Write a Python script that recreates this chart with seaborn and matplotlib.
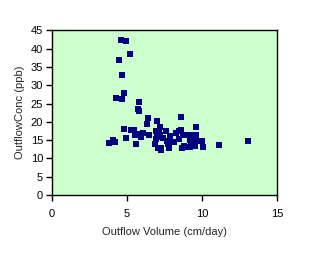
import matplotlib
matplotlib.use("Agg")
import matplotlib.pyplot as plt
import seaborn as sns
import pandas as pd

outflow_volume = [4.60, 4.96, 5.22, 4.49, 4.69, 4.82, 4.29, 4.69,
                  5.80, 5.73, 5.82, 6.40, 6.33, 7.00, 4.82, 5.29, 5.49, 6.93,
                  5.55, 5.88, 6.07, 6.47, 4.96, 5.93, 4.07, 3.83, 4.22, 5.62,
                  8.60, 9.59, 7.20, 7.15, 7.22, 7.60, 7.86, 8.28, 8.46, 8.60, 8.73,
                  9.17, 9.37, 9.59, 7.04, 7.40, 6.95, 8.48, 9.21, 9.37, 9.66, 9.99,
                  7.66, 7.84, 8.13, 6.87, 7.75, 9.26, 9.43, 11.14, 13.05,
                  7.09, 7.30, 7.27, 7.82, 8.66, 8.80, 9.00, 9.21, 9.53, 10.06]
outflow_conc = [42.4, 42.1, 38.6, 36.9, 32.8, 28.0, 26.5, 26.3,
                25.5, 23.5, 23.0, 21.1, 19.4, 20.3, 18.0, 17.8, 17.8, 17.5,
                16.5, 16.7, 17.0, 16.5, 15.7, 15.9, 15.0, 14.3, 14.5, 14.0,
                21.4, 18.7, 18.7, 17.0, 16.5, 17.6, 16.2, 17.0, 17.6, 17.8, 16.5,
                16.5, 16.5, 16.5, 15.9, 15.7, 15.2, 15.2, 15.0, 15.0, 14.9, 14.9,
                14.9, 14.9, 14.5, 14.0, 14.0, 14.0, 14.3, 13.8, 14.9,
                12.9, 12.9, 12.3, 12.9, 12.9, 13.4, 13.2, 13.2, 13.5, 13.2]

x_ticks = [0, 5, 10, 15]
y_ticks = [0, 5, 10, 15, 20, 25, 30, 35, 40, 45]

df = pd.DataFrame({"Outflow Volume (cm/day)": outflow_volume,
                   "OutflowConc (ppb)": outflow_conc})

sns.set_style("ticks")
plt.rcParams['font.family'] = ['Liberation Sans', 'DejaVu Sans']

fig = plt.figure(figsize=(3.18, 2.69), dpi=100)
ax = fig.add_axes([0.162, 0.275, 0.709, 0.612])
ax.set_facecolor("#CCFFCC")

sns.scatterplot(data=df, x="Outflow Volume (cm/day)", y="OutflowConc (ppb)",
                marker="s", s=13, color="#000080", linewidth=0, ax=ax, zorder=3)

ax.set_xlim(0, 15)
ax.set_ylim(0, 45)
ax.set_xticks(x_ticks)
ax.set_yticks(y_ticks)
ax.tick_params(direction="out", length=4, width=1, labelsize=8, colors="black", pad=2)
ax.tick_params(axis="x", pad=6)
for sp in ax.spines.values():
    sp.set_visible(True)
    sp.set_color("black")
    sp.set_linewidth(1)
ax.set_xlabel("Outflow Volume (cm/day)", fontsize=8, labelpad=6)
ax.set_ylabel("OutflowConc (ppb)", fontsize=8, labelpad=4)

fig.savefig("out.png", dpi=100)
